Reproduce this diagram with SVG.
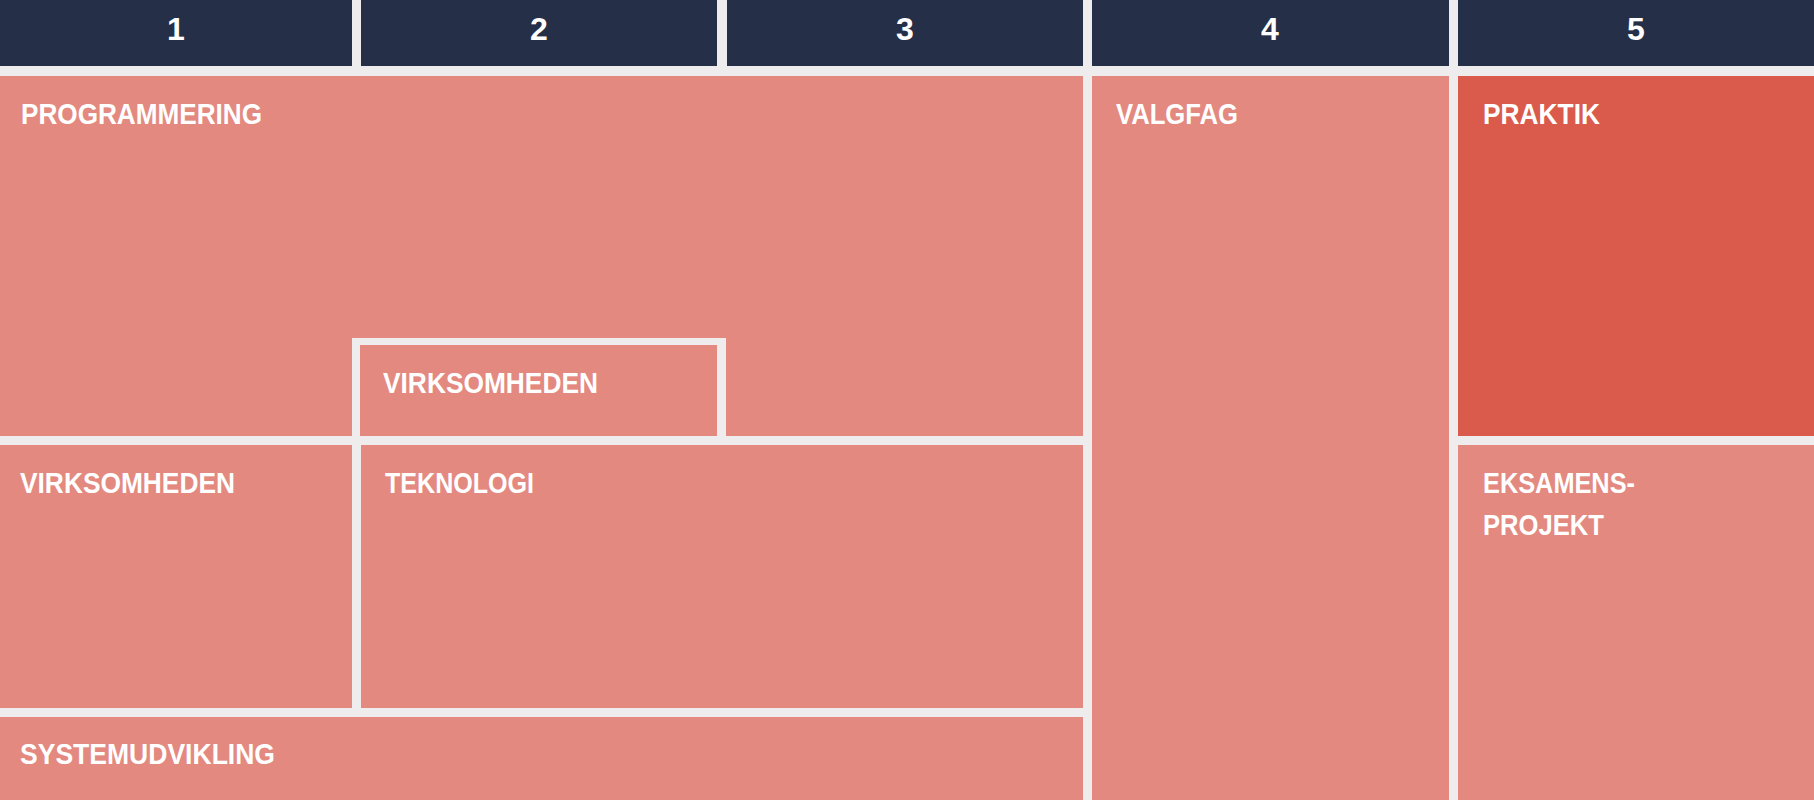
<svg xmlns="http://www.w3.org/2000/svg" width="1814" height="800" viewBox="0 0 1814 800">
<style>
.bg{fill:#EEECEC}
.hd{fill:#252F48}
.pk{fill:#E38980}
.dk{fill:#DA5A4B}
.fr{fill:#EEECEC}
.num{font-family:"Liberation Sans",Arial,sans-serif;font-weight:bold;font-size:32px;fill:#FFFFFF;text-anchor:middle}
.lbl{font-family:"Liberation Sans",Arial,sans-serif;font-weight:bold;font-size:30px;fill:#FFFFFF}
</style>
<rect class="bg" x="0" y="0" width="1814" height="800"/>
<g id="header">
  <g id="col1"><rect class="hd" x="0" y="0" width="352" height="66"/><text class="num" x="176" y="40">1</text></g>
  <g id="col2"><rect class="hd" x="361" y="0" width="356" height="66"/><text class="num" x="539" y="40">2</text></g>
  <g id="col3"><rect class="hd" x="727" y="0" width="356" height="66"/><text class="num" x="905" y="40">3</text></g>
  <g id="col4"><rect class="hd" x="1092" y="0" width="357" height="66"/><text class="num" x="1270" y="40">4</text></g>
  <g id="col5"><rect class="hd" x="1458" y="0" width="356" height="66"/><text class="num" x="1636" y="40">5</text></g>
</g>
<g id="programmering">
  <rect class="pk" x="0" y="76" width="1083" height="360"/>
  <text class="lbl" x="21" y="124" textLength="241" lengthAdjust="spacingAndGlyphs">PROGRAMMERING</text>
</g>
<g id="virksomheden-2">
  <rect class="fr" x="352" y="338" width="374" height="98"/>
  <rect class="pk" x="360" y="345" width="357" height="91"/>
  <text class="lbl" x="383" y="393" textLength="215" lengthAdjust="spacingAndGlyphs">VIRKSOMHEDEN</text>
</g>
<g id="valgfag">
  <rect class="pk" x="1092" y="76" width="357" height="724"/>
  <text class="lbl" x="1116" y="124" textLength="122" lengthAdjust="spacingAndGlyphs">VALGFAG</text>
</g>
<g id="praktik">
  <rect class="dk" x="1458" y="76" width="356" height="360"/>
  <text class="lbl" x="1483" y="124" textLength="117" lengthAdjust="spacingAndGlyphs">PRAKTIK</text>
</g>
<g id="eksamensprojekt">
  <rect class="pk" x="1458" y="445" width="356" height="355"/>
  <text class="lbl" x="1483" y="493" textLength="152" lengthAdjust="spacingAndGlyphs">EKSAMENS-</text>
  <text class="lbl" x="1483" y="535" textLength="121" lengthAdjust="spacingAndGlyphs">PROJEKT</text>
</g>
<g id="virksomheden-1">
  <rect class="pk" x="0" y="445" width="352" height="263"/>
  <text class="lbl" x="20" y="493" textLength="215" lengthAdjust="spacingAndGlyphs">VIRKSOMHEDEN</text>
</g>
<g id="teknologi">
  <rect class="pk" x="361" y="445" width="722" height="263"/>
  <text class="lbl" x="385" y="493" textLength="149" lengthAdjust="spacingAndGlyphs">TEKNOLOGI</text>
</g>
<g id="systemudvikling">
  <rect class="pk" x="0" y="717" width="1083" height="83"/>
  <text class="lbl" x="20" y="764" textLength="255" lengthAdjust="spacingAndGlyphs">SYSTEMUDVIKLING</text>
</g>
</svg>
